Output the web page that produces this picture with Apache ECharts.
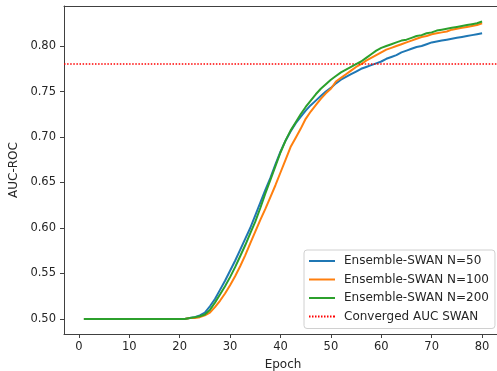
<!DOCTYPE html>
<html>
<head>
<meta charset="utf-8">
<script src="https://cdn.jsdelivr.net/npm/echarts@6/dist/echarts.min.js"></script>
<style>html,body{margin:0;padding:0;background:#fff}#c{width:497px;height:371px}</style>
</head>
<body>
<div id="c"></div>
<script>
// ---- data ----
const epochs = [];
for (let e = 1; e <= 80; e++) epochs.push(e);
const flat = [0.500,0.500,0.500,0.500,0.500,0.500,0.500,0.500,0.500,0.500,0.500,0.500,0.500,0.500,0.500,0.500,0.500,0.500,0.500,0.500,0.500];
const n50Tail = [0.501,0.502,0.504,0.507,0.514,0.522,0.532,0.542,0.553,0.564,0.576,0.588,0.600,0.614,0.628,0.642,0.655,0.670,0.684,0.696,0.706,0.715,0.722,0.729,0.735,0.740,0.745,0.750,0.754,0.759,0.763,0.766,0.769,0.772,0.775,0.777,0.779,0.781,0.783,0.786,0.788,0.790,0.793,0.795,0.797,0.799,0.800,0.802,0.804,0.805,0.806,0.807,0.808,0.809,0.810,0.811,0.812,0.813,0.814];
const n100Tail = [0.501,0.501,0.502,0.504,0.507,0.513,0.520,0.528,0.537,0.547,0.558,0.570,0.583,0.596,0.609,0.621,0.634,0.647,0.661,0.675,0.689,0.699,0.709,0.720,0.728,0.735,0.742,0.748,0.753,0.761,0.765,0.769,0.773,0.777,0.780,0.784,0.787,0.790,0.793,0.796,0.798,0.800,0.802,0.804,0.806,0.808,0.810,0.811,0.813,0.814,0.815,0.816,0.818,0.819,0.820,0.821,0.822,0.823,0.825];
const n200Tail = [0.501,0.502,0.503,0.505,0.510,0.518,0.527,0.536,0.546,0.557,0.569,0.581,0.594,0.607,0.622,0.638,0.653,0.668,0.683,0.696,0.707,0.716,0.725,0.733,0.740,0.747,0.753,0.758,0.763,0.767,0.771,0.774,0.777,0.780,0.783,0.787,0.791,0.795,0.798,0.800,0.802,0.804,0.806,0.807,0.809,0.811,0.812,0.814,0.815,0.817,0.818,0.819,0.820,0.821,0.822,0.823,0.824,0.825,0.827];
const aucN50 = flat.concat(n50Tail);
const aucN100 = flat.concat(n100Tail);
const aucN200 = flat.concat(n200Tail);
const convergedAUC = 0.779;
const xTicks = [0,10,20,30,40,50,60,70,80];
const yTicks = [0.50,0.55,0.60,0.65,0.70,0.75,0.80];
const seriesNames = ['Ensemble-SWAN N=50','Ensemble-SWAN N=100','Ensemble-SWAN N=200','Converged AUC SWAN'];

// ---- chart ----
const FONT = 'DejaVu Sans';
const TXT = '#262626';
const SPINE = '#404040';
const pairs = arr => epochs.map((e, i) => [e, arr[i]]);
const solidIcon = 'path://M0,0h26v2h-26z';
const dotIcon = 'path://M0,0h1.5v2h-1.5zM3,0h1.5v2h-1.5zM6,0h1.5v2h-1.5zM9,0h1.5v2h-1.5zM12,0h1.5v2h-1.5zM15,0h1.5v2h-1.5zM18,0h1.5v2h-1.5zM21,0h1.5v2h-1.5zM24,0h1.5v2h-1.5zM24.5,0h1.5v2h-1.5z';
const chart = echarts.init(document.getElementById('c'), null, {renderer: 'canvas'});
chart.setOption({
  animation: false,
  backgroundColor: '#fff',
  textStyle: {fontFamily: FONT},
  grid: {left: 64, top: 6, width: 438, height: 328, outerBoundsMode: 'none', containLabel: false, show: false},
  xAxis: [{
    type: 'value', min: -2.95, max: 83.95, position: 'bottom',
    name: 'Epoch', nameLocation: 'middle', nameGap: 25,
    nameTextStyle: {fontFamily: FONT, fontSize: 12, color: TXT},
    axisLine: {show: true, onZero: false, lineStyle: {color: SPINE, width: 1}},
    axisTick: {show: true, length: 4, inside: false, customValues: xTicks, lineStyle: {color: SPINE}},
    axisLabel: {customValues: xTicks, fontFamily: FONT, fontSize: 11.5, color: TXT, margin: 7},
    splitLine: {show: false}
  }, {
    type: 'value', min: -2.95, max: 83.95, position: 'top',
    axisLine: {show: true, onZero: false, lineStyle: {color: SPINE, width: 1}},
    axisTick: {show: false}, axisLabel: {show: false}, splitLine: {show: false}
  }],
  yAxis: {
    type: 'value', min: 0.4835, max: 0.844,
    name: 'AUC-ROC', nameLocation: 'middle', nameGap: 40,
    nameTextStyle: {fontFamily: FONT, fontSize: 12, color: TXT},
    axisLine: {show: true, onZero: false, lineStyle: {color: SPINE, width: 1}},
    axisTick: {show: true, length: 4, inside: false, customValues: yTicks, lineStyle: {color: SPINE}},
    axisLabel: {customValues: yTicks, fontFamily: FONT, fontSize: 11.5, color: TXT, margin: 8,
      formatter: v => v.toFixed(2)},
    splitLine: {show: false}
  },
  legend: {
    orient: 'vertical', left: 304, top: 250,
    data: [
      {name: seriesNames[0], icon: solidIcon},
      {name: seriesNames[1], icon: solidIcon},
      {name: seriesNames[2], icon: solidIcon},
      {name: seriesNames[3], icon: dotIcon}
    ],
    itemWidth: 26, itemHeight: 2, itemGap: 4.5,
    padding: [4, 6, 5, 5],
    backgroundColor: 'rgba(255,255,255,0.85)',
    borderColor: '#d0d0d0', borderWidth: 1, borderRadius: 3,
    textStyle: {fontFamily: FONT, fontSize: 12, color: TXT, padding: [0, 0, 0, 4], lineHeight: 14}
  },
  series: [
    {name: seriesNames[0], type: 'line', data: pairs(aucN50), symbol: 'none', lineStyle: {color: '#1f77b4', width: 2}, itemStyle: {color: '#1f77b4'}, z: 3},
    {name: seriesNames[1], type: 'line', data: pairs(aucN100), symbol: 'none', lineStyle: {color: '#ff7f0e', width: 2}, itemStyle: {color: '#ff7f0e'}, z: 4},
    {name: seriesNames[2], type: 'line', data: pairs(aucN200), symbol: 'none', lineStyle: {color: '#2ca02c', width: 2}, itemStyle: {color: '#2ca02c'}, z: 5},
    {name: seriesNames[3], type: 'line', data: [], symbol: 'none',
      lineStyle: {color: '#ff0000', width: 1.5, type: [1.5, 1.6]}, itemStyle: {color: '#ff0000'},
      markLine: {silent: true, symbol: ['none', 'none'], label: {show: false},
        lineStyle: {color: '#ff0000', width: 1.5, type: [1.5, 1.6]},
        data: [{yAxis: convergedAUC}]}, z: 2}
  ]
});
</script>
</body>
</html>
